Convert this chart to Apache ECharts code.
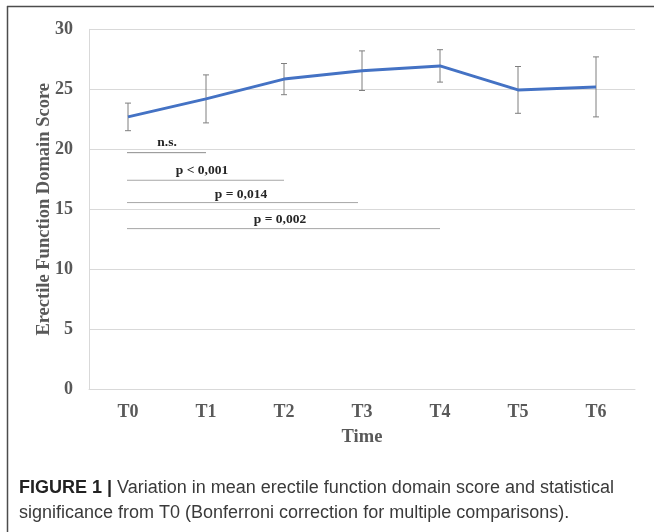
<!DOCTYPE html>
<html>
<head>
<meta charset="utf-8">
<script src="https://cdn.jsdelivr.net/npm/echarts@6/dist/echarts.min.js"></script>
<style>
html,body{margin:0;padding:0;background:#fff;}
#chart{width:654px;height:532px;}
</style>
</head>
<body>
<div id="chart"></div>
<script>
var categories = ['T0', 'T1', 'T2', 'T3', 'T4', 'T5', 'T6'];
var meanScores = [22.7, 24.2, 25.85, 26.55, 26.95, 24.95, 25.2];
var errorSizes = [1.15, 2.0, 1.3, 1.65, 1.35, 1.95, 2.5];
var yTicks = [0, 5, 10, 15, 20, 25, 30];
var sigLabels = ['n.s.', 'p < 0,001', 'p = 0,014', 'p = 0,002'];
var sigEndIndex = [1, 2, 3, 4];
var sigLevels = [19.72, 17.42, 15.56, 13.39];

var errData = categories.map(function (c, i) {
  return [i, meanScores[i] - errorSizes[i], meanScores[i] + errorSizes[i]];
});
var sigData = sigLabels.map(function (l, i) {
  return [sigEndIndex[i], sigLevels[i], i];
});

var serif = '"Liberation Serif", "Times New Roman", serif';
var sans = '"Liberation Sans", Arial, sans-serif';

var chart = echarts.init(document.getElementById('chart'));
chart.setOption({
  animation: false,
  backgroundColor: '#fff',
  grid: { left: 89, right: 19, top: 29.3, bottom: 142.7, containLabel: false },
  xAxis: {
    type: 'category',
    data: categories,
    boundaryGap: true,
    name: 'Time',
    nameLocation: 'middle',
    nameGap: 38,
    nameMoveOverlap: false,
    nameTextStyle: { fontFamily: serif, fontWeight: 'bold', fontSize: 18.5, color: '#595959' },
    axisLine: { show: true, lineStyle: { color: '#d9d9d9', width: 1 } },
    axisTick: { show: false },
    axisLabel: { fontFamily: serif, fontWeight: 'bold', fontSize: 18, color: '#595959', margin: 14 }
  },
  yAxis: {
    type: 'value',
    min: 0, max: 30, interval: 5,
    name: 'Erectile Function Domain Score',
    nameLocation: 'middle',
    nameGap: 35,
    nameMoveOverlap: false,
    nameTextStyle: { fontFamily: serif, fontWeight: 'bold', fontSize: 18.5, color: '#595959' },
    axisLine: { show: true, lineStyle: { color: '#d9d9d9', width: 1 } },
    axisTick: { show: false },
    splitLine: { show: true, lineStyle: { color: '#d9d9d9', width: 1 } },
    axisLabel: {
      fontFamily: serif, fontWeight: 'bold', fontSize: 18, color: '#595959', margin: 16,
      formatter: function (v) { return yTicks.indexOf(v) >= 0 ? String(v) : ''; }
    }
  },
  series: [
    {
      type: 'line',
      data: meanScores,
      symbol: 'none',
      lineStyle: { color: '#4472C4', width: 3 },
      z: 5
    },
    {
      type: 'custom',
      data: errData,
      z: 4,
      renderItem: function (params, api) {
        var x = api.value(0);
        var lo = api.coord([x, api.value(1)]);
        var hi = api.coord([x, api.value(2)]);
        var cap = 3;
        var st = { stroke: '#7f7f7f', lineWidth: 1 };
        return {
          type: 'group',
          children: [
            { type: 'line', shape: { x1: lo[0], y1: lo[1], x2: hi[0], y2: hi[1] }, style: st },
            { type: 'line', shape: { x1: lo[0] - cap, y1: lo[1], x2: lo[0] + cap, y2: lo[1] }, style: st },
            { type: 'line', shape: { x1: hi[0] - cap, y1: hi[1], x2: hi[0] + cap, y2: hi[1] }, style: st }
          ]
        };
      }
    },
    {
      type: 'custom',
      data: sigData,
      z: 3,
      renderItem: function (params, api) {
        var endI = api.value(0);
        var lvl = api.value(1);
        var idx = api.value(2);
        var p0 = api.coord([0, lvl]);
        var p1 = api.coord([endI, lvl]);
        var gap = idx === 0 ? 10 : (idx === 2 ? 8 : 9.5);
        return {
          type: 'group',
          children: [
            { type: 'line', shape: { x1: p0[0] - 1, y1: p0[1], x2: p1[0] - (endI === 3 ? 4 : 0), y2: p1[1] },
              style: { stroke: idx === 0 ? '#8c8c8c' : '#a6a6a6', lineWidth: 1 } },
            { type: 'text', style: {
                text: sigLabels[idx], x: (p0[0] + p1[0]) / 2 - (idx === 0 ? 0 : 4), y: p0[1] - gap,
                textAlign: 'center', textVerticalAlign: 'middle',
                font: 'bold 13.5px ' + serif, fill: '#262626' } }
          ]
        };
      }
    }
  ],
  graphic: [
    { type: 'line', shape: { x1: 7, y1: 6.5, x2: 654, y2: 6.5 }, style: { stroke: '#4d4d4d', lineWidth: 1.5 } },
    { type: 'line', shape: { x1: 7.5, y1: 6, x2: 7.5, y2: 532 }, style: { stroke: '#4d4d4d', lineWidth: 1.5 } },
    { type: 'text', left: 19, top: 479, style: {
        text: '{b|FIGURE 1 |} Variation in mean erectile function domain score and statistical',
        font: '18px ' + sans, fill: '#3a3a3a',
        rich: { b: { fontFamily: sans, fontWeight: 'bold', fontSize: 18, fill: '#222' } } } },
    { type: 'text', left: 19, top: 504, style: {
        text: 'significance from T0 (Bonferroni correction for multiple comparisons).',
        font: '18px ' + sans, fill: '#3a3a3a' } }
  ]
});
</script>
</body>
</html>
